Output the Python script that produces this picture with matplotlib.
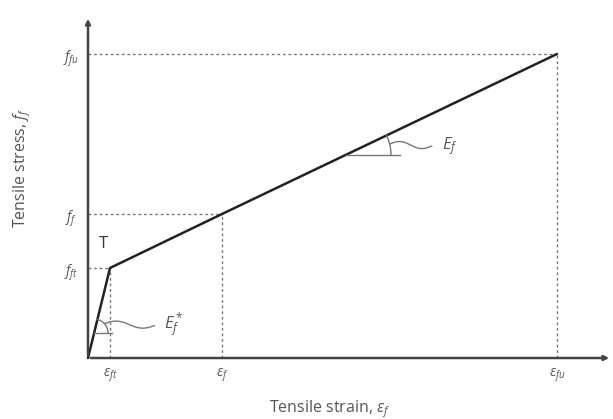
import numpy as np
import matplotlib.pyplot as plt

plt.rcParams['font.family'] = ['Open Sans', 'DejaVu Sans']
plt.rcParams['mathtext.fontset'] = 'custom'
plt.rcParams['mathtext.it'] = 'Open Sans:italic'
plt.rcParams['mathtext.rm'] = 'Open Sans'

# idealised bilinear tensile curve: origin, transition point T, a point on
# the cracked branch and the ultimate point
strain = [0, 22, 134, 469]
stress = [0, 90, 144, 304]
xticks = ['$\\epsilon_{ft}$', '$\\epsilon_{f}$', '$\\epsilon_{fu}$']
yticks = ['$f_{ft}$', '$f_{f}$', '$f_{fu}$']

txt = '#555555'
fig = plt.figure(figsize=(6.13, 4.19), dpi=100)
ax = fig.add_axes([0, 0, 1, 1])
ax.set_xlim(-88, 525)
ax.set_ylim(-61, 358)
ax.axis('off')

# axes with small arrow heads
ax.annotate('', xy=(524, 0), xytext=(0, 0),
            arrowprops=dict(arrowstyle='-|>', color='#444444', lw=1.8, mutation_scale=7))
ax.annotate('', xy=(0, 342), xytext=(0, 0),
            arrowprops=dict(arrowstyle='-|>', color='#444444', lw=1.8, mutation_scale=7))

# dotted guides to the axes
for i in range(1, 4):
    x, y = strain[i], stress[i]
    ax.plot([0, x], [y, y], ls=(0, (2, 2)), color='#777777', lw=1)
    ax.plot([x, x], [0, y], ls=(0, (2, 2)), color='#777777', lw=1)
    ax.text(x, -8, xticks[i - 1], ha='center', va='top', fontsize=10, color=txt)
    ax.text(-17, y - 5, yticks[i - 1], ha='center', va='center', fontsize=10, color=txt)

ax.plot(strain, stress, color='#222222', lw=1.8, solid_capstyle='round')
ax.text(strain[1] - 7, stress[1] + 24, 'T', ha='center', va='center', fontsize=12, color='#333333')

# slope marks: horizontal tick, arc, wavy leader and label
def slope_mark(x0, y0, length, r, ang, wave, label):
    ax.plot([x0, x0 + length], [y0, y0], color='#777777', lw=1)
    th = np.linspace(0, ang, 30)
    ax.plot(x0 + r * np.cos(th), y0 + r * np.sin(th), color='#777777', lw=1)
    sx, sy = x0 + r * np.cos(ang * 0.55), y0 + r * np.sin(ang * 0.55)
    t = np.linspace(0, 1, 40)
    ax.plot(sx + wave * t, sy + 3 * np.sin(2 * np.pi * t) - 2 * t, color='#777777', lw=1)
    ax.text(sx + wave + 10, sy - 2, label, ha='left', va='center', fontsize=12, color=txt)

slope_mark(6, 25, 18, 14, np.arctan2(stress[1], strain[1]), 50, '$E^*_f$')
slope_mark(258, 203, 54, 45, np.arctan2(stress[3] - stress[1], strain[3] - strain[1]), 42, '$E_f$')

ax.text(242, -51, 'Tensile strain, $\\epsilon_f$', ha='center', va='center', fontsize=11.5, color=txt)
ax.text(-66, 190, 'Tensile stress, $f_f$', ha='center', va='center', rotation=90,
        fontsize=11.5, color=txt)

fig.savefig('out.png', dpi=100)
